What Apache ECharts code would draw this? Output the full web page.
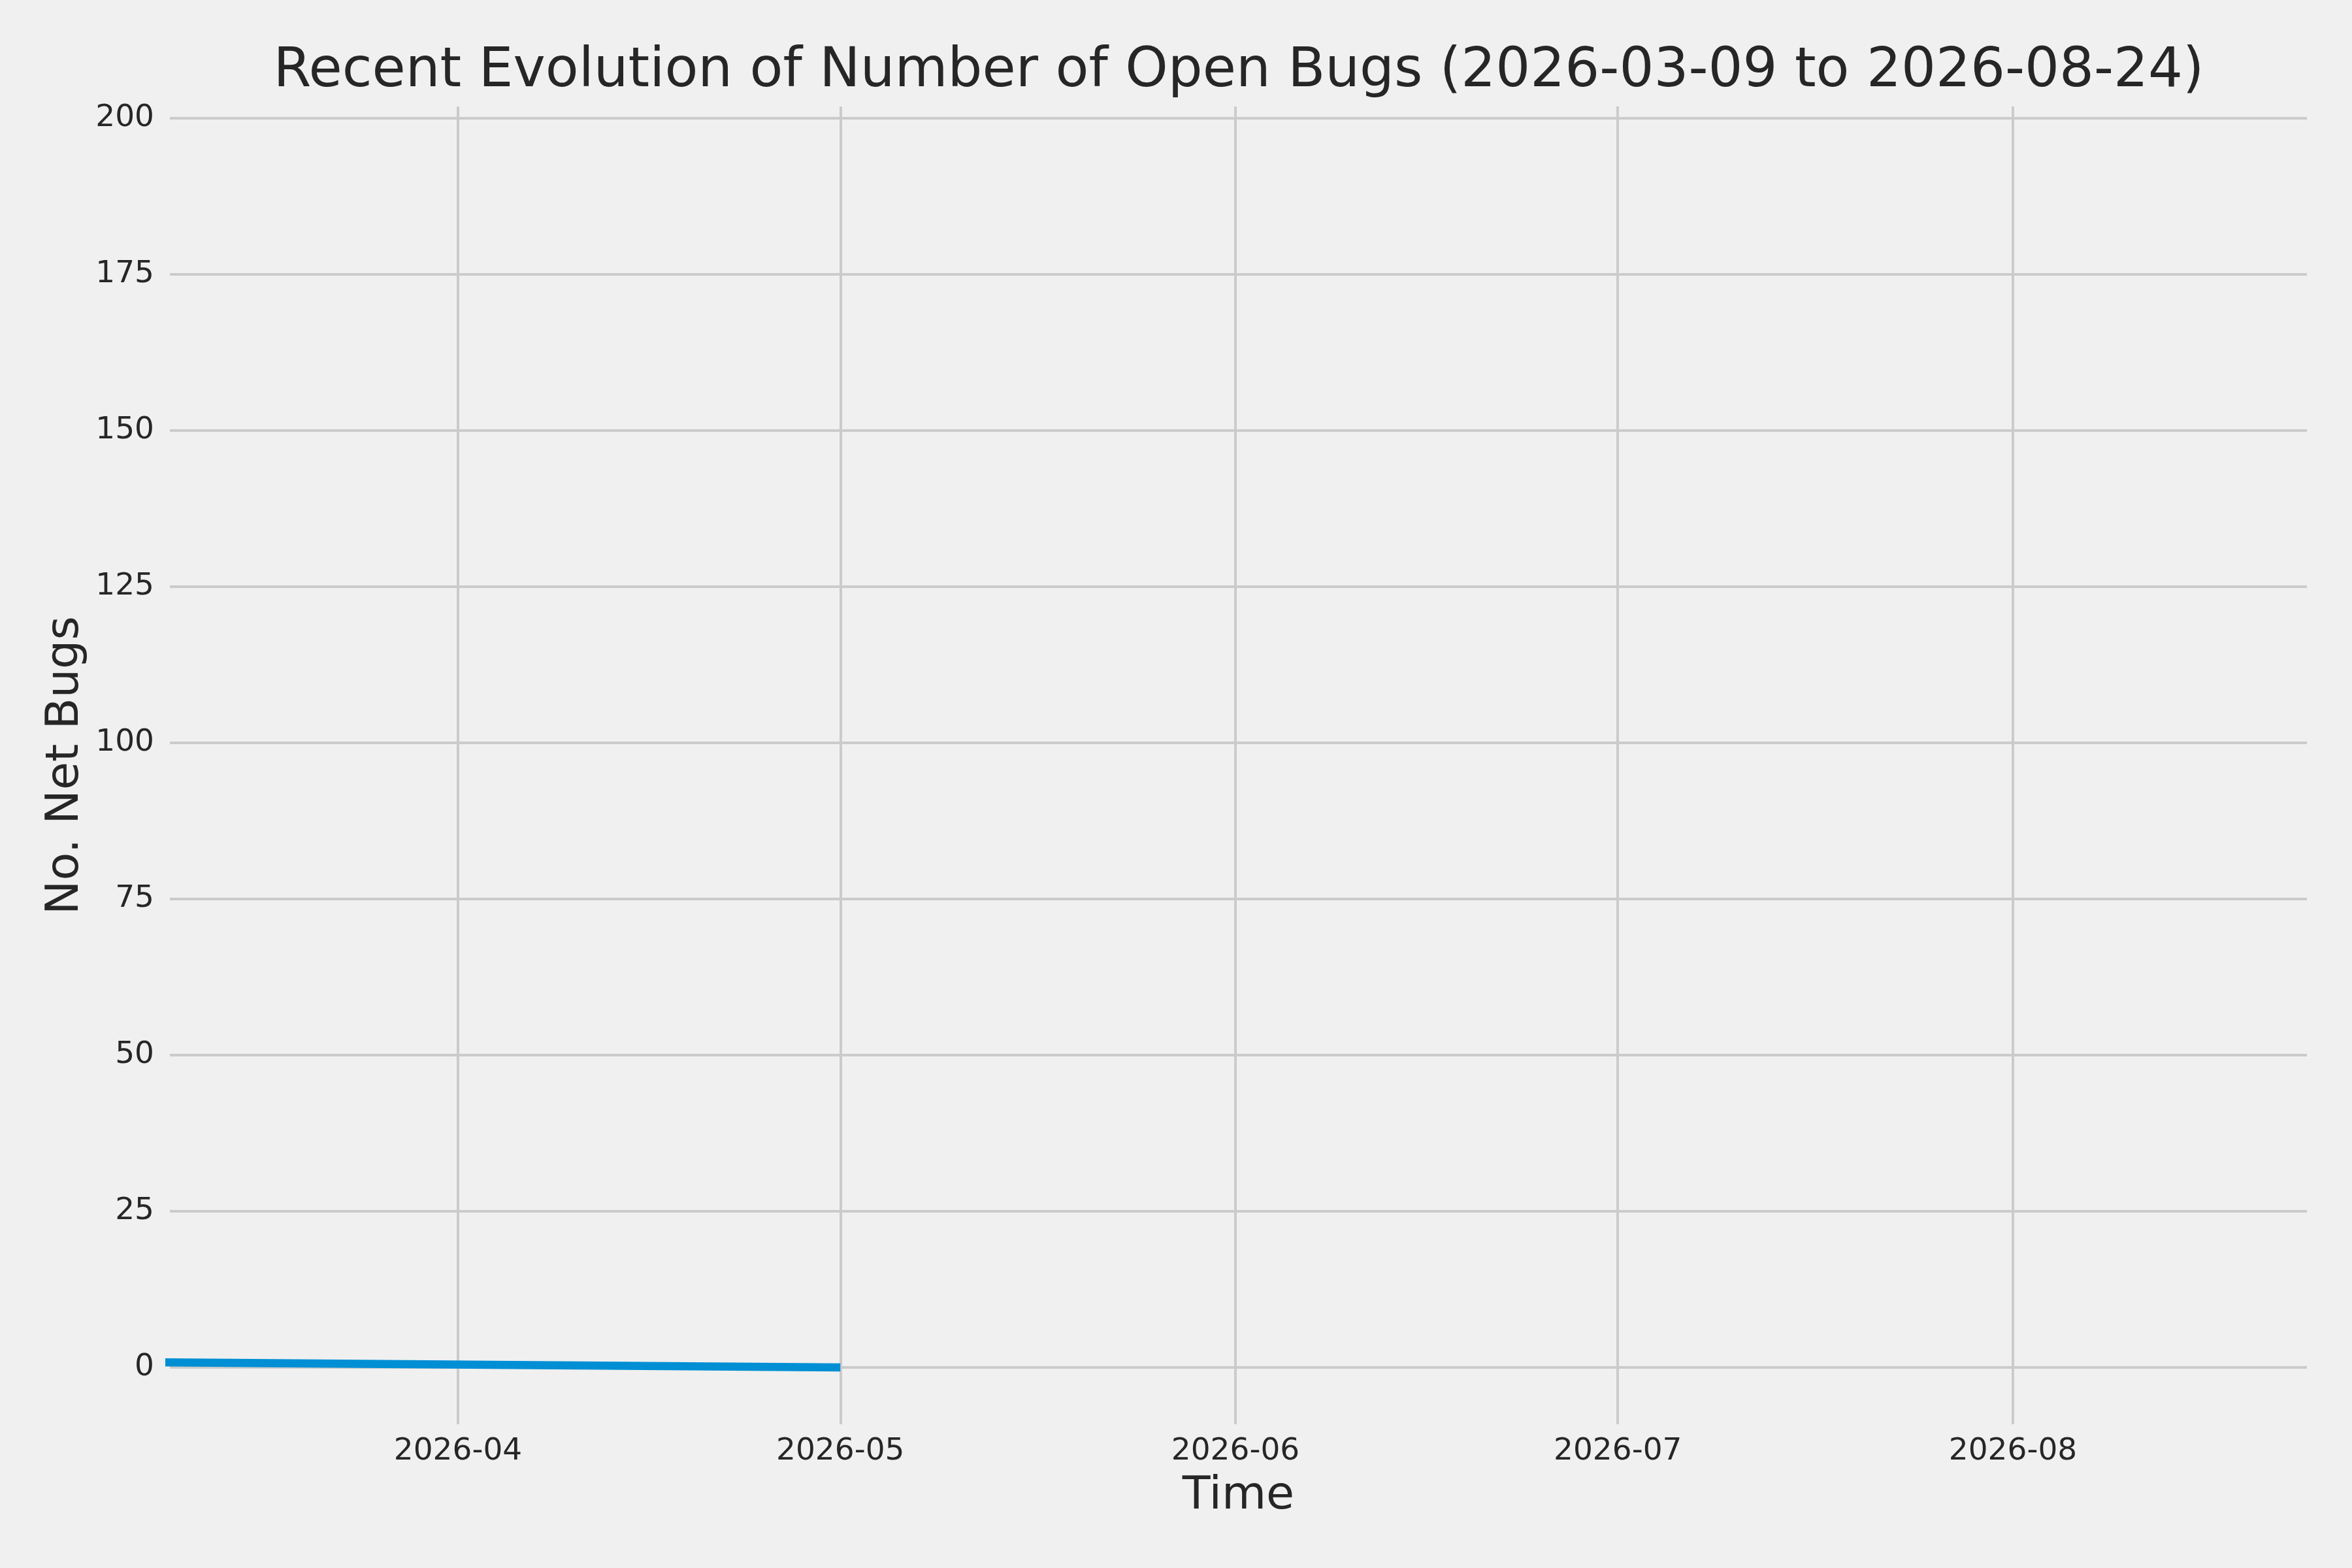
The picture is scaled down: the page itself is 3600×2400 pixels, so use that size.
<!DOCTYPE html>
<html>
<head>
<meta charset="utf-8">
<script src="https://cdn.jsdelivr.net/npm/echarts@6/dist/echarts.min.js"></script>
<style>
  html, body { margin: 0; padding: 0; background: #f0f0f0; }
  #chart { width: 3600px; height: 2400px; }
</style>
</head>
<body>
<div id="chart"></div>
<script>
// ---- data ----
const dates = ['2026-03-09', '2026-05-01'];
const openBugs = [0.8, 0];
const xTickDates = ['2026-04-01', '2026-05-01', '2026-06-01', '2026-07-01', '2026-08-01'];
const yTicks = [0, 25, 50, 75, 100, 125, 150, 175, 200];
const titleText = 'Recent Evolution of Number of Open Bugs (2026-03-09 to 2026-08-24)';

function ts(s) {
  const p = s.split('T');
  const d = p[0].split('-').map(Number);
  let h = 0, m = 0;
  if (p[1]) { const t = p[1].split(':').map(Number); h = t[0]; m = t[1]; }
  return Date.UTC(d[0], d[1] - 1, d[2], h, m);
}
function fmtMonth(v) {
  const d = new Date(v);
  return d.getUTCFullYear() + '-' + String(d.getUTCMonth() + 1).padStart(2, '0');
}

const seriesData = dates.map((d, i) => [ts(d), openBugs[i]]);
const xTickValues = xTickDates.map(ts);

const FONT = 'DejaVu Sans';
const TEXT = '#262626';
const GRID = '#cbcbcb';

const chart = echarts.init(document.getElementById('chart'), null, { renderer: 'canvas', devicePixelRatio: 1 });
chart.setOption({
  backgroundColor: '#f0f0f0',
  animation: false,
  title: {
    text: titleText,
    left: 1891,
    top: 64,
    textAlign: 'center',
    textStyle: { fontFamily: FONT, fontSize: 83.3, fontWeight: 'normal', color: TEXT }
  },
  grid: { left: 260, right: 69, top: 163, bottom: 220, containLabel: false, outerBoundsMode: 'none' },
  xAxis: {
    type: 'value',
    min: ts('2026-03-09T09:27'),
    max: ts('2026-08-24T01:37'),
    name: 'Time',
    nameLocation: 'middle',
    nameGap: 76,
    nameTextStyle: { fontFamily: FONT, fontSize: 70, color: TEXT },
    axisLine: { show: false },
    axisTick: { show: false, customValues: xTickValues },
    axisLabel: {
      customValues: xTickValues,
      formatter: v => fmtMonth(v),
      fontFamily: FONT, fontSize: 47, color: TEXT, margin: 18
    },
    splitLine: { show: true, lineStyle: { color: GRID, width: 4 } }
  },
  yAxis: {
    type: 'value',
    min: -9.1,
    max: 201.9,
    name: 'No. Net Bugs',
    nameLocation: 'middle',
    nameGap: 122,
    nameTextStyle: { fontFamily: FONT, fontSize: 70, color: TEXT },
    axisLine: { show: false },
    axisTick: { show: false, customValues: yTicks },
    axisLabel: {
      customValues: yTicks,
      fontFamily: FONT, fontSize: 47, color: TEXT, margin: 24
    },
    splitLine: { show: true, lineStyle: { color: GRID, width: 4 } }
  },
  series: [{
    type: 'line',
    data: seriesData,
    showSymbol: false,
    symbol: 'none',
    clip: true,
    lineStyle: { color: '#008fd5', width: 12.5, cap: 'butt' },
    itemStyle: { color: '#008fd5' }
  }]
});
</script>
</body>
</html>
